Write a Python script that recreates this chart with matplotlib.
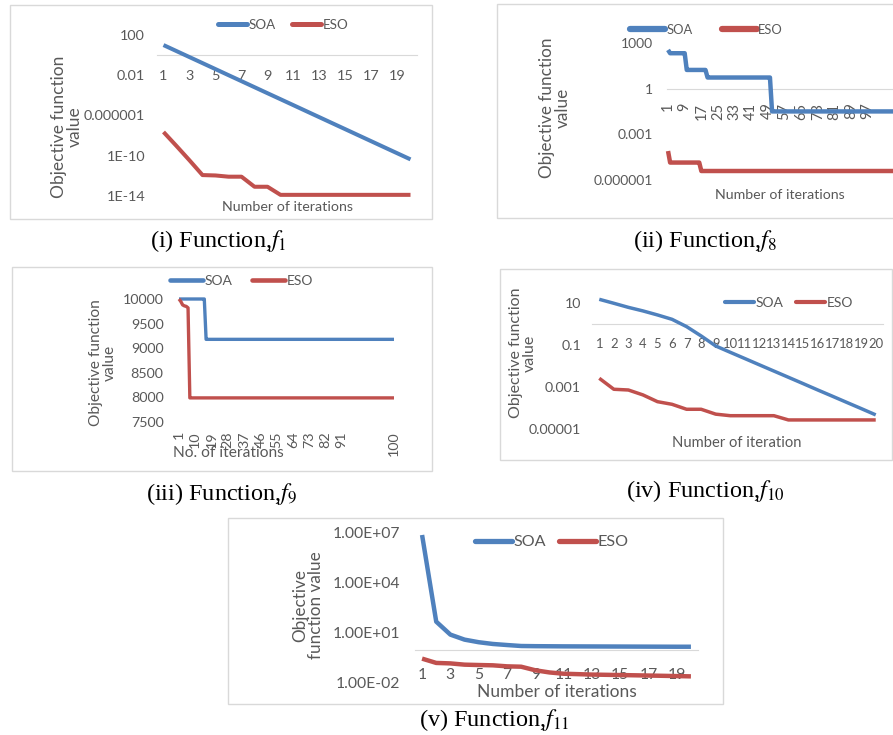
import matplotlib
matplotlib.use('Agg')
import matplotlib.pyplot as plt
from matplotlib.patches import Rectangle

plt.rcParams['font.family'] = ['Lato', 'DejaVu Sans']
plt.rcParams['mathtext.fontset'] = 'stix'

W, H = 893, 735
BLUE = '#4F81BD'
RED = '#C0504D'
GRAY = '#595959'
AXLINE = '#D9D9D9'
FRAME = '#D9D9D9'

# ---------------- data ----------------
# (i) f1
f1_iter = list(range(1, 21))
f1_soa = [10, 2.52, 0.637, 0.161, 0.0406, 0.0102, 2.58e-3, 6.5e-4, 1.64e-4, 4.15e-5,
          1.05e-5, 2.64e-6, 6.67e-7, 1.68e-7, 4.25e-8, 1.07e-8, 2.7e-9, 6.8e-10, 1.72e-10, 4.35e-11]
f1_eso = [2.3e-8, 9.3e-10, 3.5e-11, 1.2e-12, 1.1e-12, 8.3e-13, 8.3e-13, 8.3e-14, 8.3e-14, 1.3e-14,
          1.3e-14, 1.3e-14, 1.3e-14, 1.3e-14, 1.3e-14, 1.3e-14, 1.3e-14, 1.3e-14, 1.3e-14, 1.3e-14]
f1_xticks = [1, 3, 5, 7, 9, 11, 13, 15, 17, 19]
f1_yticks = [1e-14, 1e-10, 1e-6, 1e-2, 1e2]
f1_ylabels = ['1E-14', '1E-10', '0.000001', '0.01', '100']

# (ii) f8  (chart is cropped at the right edge)
f8_iter = list(range(1, 121))
f8_soa = [350] + [213] * 8 + [17] * 10 + [5.4] * 31 + [0.032] * 70
f8_eso = [8e-5] + [1.4e-5] * 15 + [3.9e-6] * 104
f8_xticks = [1, 9, 17, 25, 33, 41, 49, 57, 65, 73, 81, 89, 97]
f8_yticks = [1e-6, 1e-3, 1, 1e3]
f8_ylabels = ['0.000001', '0.001', '1', '1000']

# (iii) f9
f9_iter = list(range(1, 121))
f9_soa = [10000] * 15 + [9180] * 105
f9_eso = [10000, 9950, 9880, 9860, 9850, 9820] + [7990] * 114
f9_xtick_pos = [1, 10, 19, 28, 37, 46, 55, 64, 73, 82, 91, 120]
f9_xtick_lab = ['1', '10', '19', '28', '37', '46', '55', '64', '73', '82', '91', '100']
f9_yticks = [7500, 8000, 8500, 9000, 9500, 10000]

# (iv) f10
f10_iter = list(range(1, 21))
f10_soa = [15, 9.7, 6.2, 4.2, 2.7, 1.67, 0.75, 0.27, 0.09, 0.045,
           0.0227, 0.0114, 5.75e-3, 2.9e-3, 1.46e-3, 7.3e-4, 3.7e-4, 1.86e-4, 9.4e-5, 4.7e-5]
f10_eso = [2.6e-3, 7.8e-4, 7.2e-4, 4.2e-4, 2.0e-4, 1.5e-4, 8.7e-5, 8.7e-5, 5.1e-5, 4.3e-5,
           4.3e-5, 4.3e-5, 4.3e-5, 2.7e-5, 2.7e-5, 2.7e-5, 2.7e-5, 2.7e-5, 2.7e-5, 2.7e-5]
f10_xticks = list(range(1, 21))
f10_yticks = [1e-5, 1e-3, 1e-1, 1e1]
f10_ylabels = ['0.00001', '0.001', '0.1', '10']

# (v) f11
f11_iter = list(range(1, 21))
f11_soa = [7.6e6, 48, 8, 4, 2.8, 2.2, 1.9, 1.66, 1.62, 1.6,
           1.58, 1.57, 1.56, 1.55, 1.54, 1.53, 1.52, 1.51, 1.5, 1.5]
f11_eso = [0.29, 0.16, 0.15, 0.126, 0.12, 0.115, 0.1, 0.095, 0.058, 0.043,
           0.036, 0.034, 0.032, 0.031, 0.03, 0.029, 0.028, 0.027, 0.026, 0.025]
f11_xticks = [1, 3, 5, 7, 9, 11, 13, 15, 17, 19]
f11_yticks = [1e-2, 1e1, 1e4, 1e7]
f11_ylabels = ['1.00E-02', '1.00E+01', '1.00E+04', '1.00E+07']

series_names = ['SOA', 'ESO']

# ---------------- drawing ----------------
fig = plt.figure(figsize=(W / 100, H / 100), dpi=100)
fig.patch.set_facecolor('white')


def fx(x):
    return x / W


def fy(y):
    return 1 - y / H


def frame(l, t, r, b):
    fig.add_artist(Rectangle((fx(l), fy(b)), (r - l) / W, (b - t) / H,
                             transform=fig.transFigure, fill=False,
                             edgecolor=FRAME, lw=1.0))


def make_ax(l, t, r, b):
    ax = fig.add_axes([fx(l), fy(b), (r - l) / W, (b - t) / H])
    ax.set_facecolor('none')
    for s in ['top', 'right', 'left']:
        ax.spines[s].set_visible(False)
    ax.spines['bottom'].set_color(AXLINE)
    ax.spines['bottom'].set_linewidth(0.8)
    return ax


def panel(box, axbox, x, soa, eso, lw, log, xlim, ylim, xticks, xlabels,
          yticks, ylabels, tick_fs, xpad, ypad, xrot, ylab, ylab_xy, ylab_fs,
          xtitle, xtitle_xy, xtitle_fs, leg_xy, leg_fs, leg_hl, leg_cs, leg_lw,
          axis_at_one=True, show_axis=True, xtick_fs=None):
    frame(*box)
    ax = make_ax(*axbox)
    l1, = ax.plot(x, soa, color=BLUE, lw=lw, solid_joinstyle='round',
                  solid_capstyle='butt', clip_on=False, zorder=3)
    l2, = ax.plot(x, eso, color=RED, lw=lw, solid_joinstyle='round',
                  solid_capstyle='butt', clip_on=False, zorder=3)
    if log:
        ax.set_yscale('log')
    ax.set_xlim(*xlim)
    ax.set_ylim(*ylim)
    ax.set_xticks(xticks)
    ax.set_xticklabels(xlabels)
    ax.set_yticks(yticks)
    ax.set_yticklabels(ylabels)
    ax.minorticks_off()
    ax.tick_params(axis='both', length=0, labelcolor=GRAY, labelsize=tick_fs)
    ax.tick_params(axis='x', pad=xpad, labelrotation=xrot,
                   labelsize=xtick_fs if xtick_fs else tick_fs)
    ax.tick_params(axis='y', pad=ypad)
    if axis_at_one:
        ax.spines['bottom'].set_position(('data', 1))
    if not show_axis:
        ax.spines['bottom'].set_visible(False)
    fig.text(fx(ylab_xy[0]), fy(ylab_xy[1]), ylab, rotation=90, ha='center',
             va='center', multialignment='center', color=GRAY,
             fontsize=ylab_fs, linespacing=1.0)
    fig.text(fx(xtitle_xy[0]), fy(xtitle_xy[1]), xtitle, ha='center',
             va='center', color=GRAY, fontsize=xtitle_fs)
    leg = fig.legend([l1, l2], series_names, loc='center left',
                     bbox_to_anchor=(fx(leg_xy[0]), fy(leg_xy[1])),
                     ncol=2, frameon=False, fontsize=leg_fs, borderpad=0,
                     borderaxespad=0, handlelength=leg_hl, handletextpad=0.1,
                     columnspacing=leg_cs, labelcolor=GRAY)
    for h in leg.legend_handles:
        h.set_linewidth(leg_lw)
        h.set_solid_capstyle('round')
    return ax


# (i)
panel(box=(10, 5, 432, 219), axbox=(157, 35, 417, 196), x=f1_iter,
      soa=f1_soa, eso=f1_eso, lw=2.9, log=True, xlim=(0.5, 20.5),
      ylim=(1e-14, 1e2), xticks=f1_xticks, xlabels=[str(v) for v in f1_xticks],
      yticks=f1_yticks, ylabels=f1_ylabels, tick_fs=10.4, xpad=11, ypad=8.5,
      xrot=0, ylab='Objective function\nvalue', ylab_xy=(67, 127), ylab_fs=12.5,
      xtitle='Number of iterations', xtitle_xy=(287, 207), xtitle_fs=10.3,
      leg_xy=(218, 25), leg_fs=9.6, leg_hl=2.2, leg_cs=1.2, leg_lw=3.6)

# (ii)
panel(box=(497, 4, 905, 218), axbox=(667, 43, 667 + 120 * 2.08, 180), x=f8_iter,
      soa=f8_soa, eso=f8_eso, lw=3.2, log=True, xlim=(0.5, 120.5),
      ylim=(1e-6, 1e3), xticks=f8_xticks, xlabels=[str(v) for v in f8_xticks],
      yticks=f8_yticks, ylabels=f8_ylabels, tick_fs=10.0, xpad=10, ypad=10,
      xrot=90, ylab='Objective function\nvalue', ylab_xy=(555, 108), ylab_fs=12.3,
      xtitle='Number of iterations', xtitle_xy=(780, 195), xtitle_fs=10.2,
      leg_xy=(630, 30), leg_fs=9.3, leg_hl=2.7, leg_cs=2.3, leg_lw=4.5,
      xtick_fs=10.5)

# (iii)
panel(box=(12, 267, 432, 471), axbox=(178.1, 299, 394.9, 422), x=f9_iter,
      soa=f9_soa, eso=f9_eso, lw=2.4, log=False, xlim=(0.5, 120.5),
      ylim=(7500, 10000), xticks=f9_xtick_pos, xlabels=f9_xtick_lab,
      yticks=f9_yticks, ylabels=[str(v) for v in f9_yticks], tick_fs=10.3,
      xpad=6.5, ypad=10.5, xrot=90, ylab='Objective function\nvalue',
      ylab_xy=(103, 363), ylab_fs=11.2, xtitle='No. of iterations',
      xtitle_xy=(228, 453), xtitle_fs=11.2, leg_xy=(170, 281), leg_fs=10.0,
      leg_hl=2.4, leg_cs=1.4, leg_lw=3.3, axis_at_one=False, show_axis=False)

# (iv)
panel(box=(500, 269, 892, 460), axbox=(592, 282, 883, 429), x=f10_iter,
      soa=f10_soa, eso=f10_eso, lw=2.5, log=True, xlim=(0.5, 20.5),
      ylim=(1e-5, 1e2), xticks=f10_xticks, xlabels=[str(v) for v in f10_xticks],
      yticks=f10_yticks, ylabels=f10_ylabels, tick_fs=10.2, xpad=10, ypad=8,
      xrot=0, ylab='Objective function\nvalue', ylab_xy=(523, 353), ylab_fs=11.5,
      xtitle='Number of iteration', xtitle_xy=(737, 443), xtitle_fs=10.6,
      leg_xy=(725, 303), leg_fs=10.0, leg_hl=2.1, leg_cs=0.9, leg_lw=3.0,
      xtick_fs=9.4)

# (v)
panel(box=(228, 518, 723, 704), axbox=(415, 533, 698, 683), x=f11_iter,
      soa=f11_soa, eso=f11_eso, lw=3.2, log=True, xlim=(0.5, 20.5),
      ylim=(1e-2, 1e7), xticks=f11_xticks, xlabels=[str(v) for v in f11_xticks],
      yticks=f11_yticks, ylabels=f11_ylabels, tick_fs=11.3, xpad=13, ypad=10.5,
      xrot=0, ylab='Objective\nfunction value', ylab_xy=(308, 605), ylab_fs=12.3,
      xtitle='Number of iterations', xtitle_xy=(557, 692), xtitle_fs=12.5,
      leg_xy=(475, 542), leg_fs=11.6, leg_hl=2.3, leg_cs=0.8, leg_lw=3.8)

# captions
captions = [('(i) Function,$f_{1}$', 218, 241),
            ('(ii) Function,$f_{8}$', 705, 241),
            ('(iii) Function,$f_{9}$', 222, 494),
            ('(iv) Function,$f_{10}$', 705, 491),
            ('(v) Function,$f_{11}$', 494, 720)]
for txt, cx, cy in captions:
    fig.text(fx(cx), fy(cy), txt, ha='center', va='center', fontsize=17.5,
             family=['Liberation Serif', 'DejaVu Serif'], color='black')

fig.savefig('out.png', dpi=100, facecolor='white')
